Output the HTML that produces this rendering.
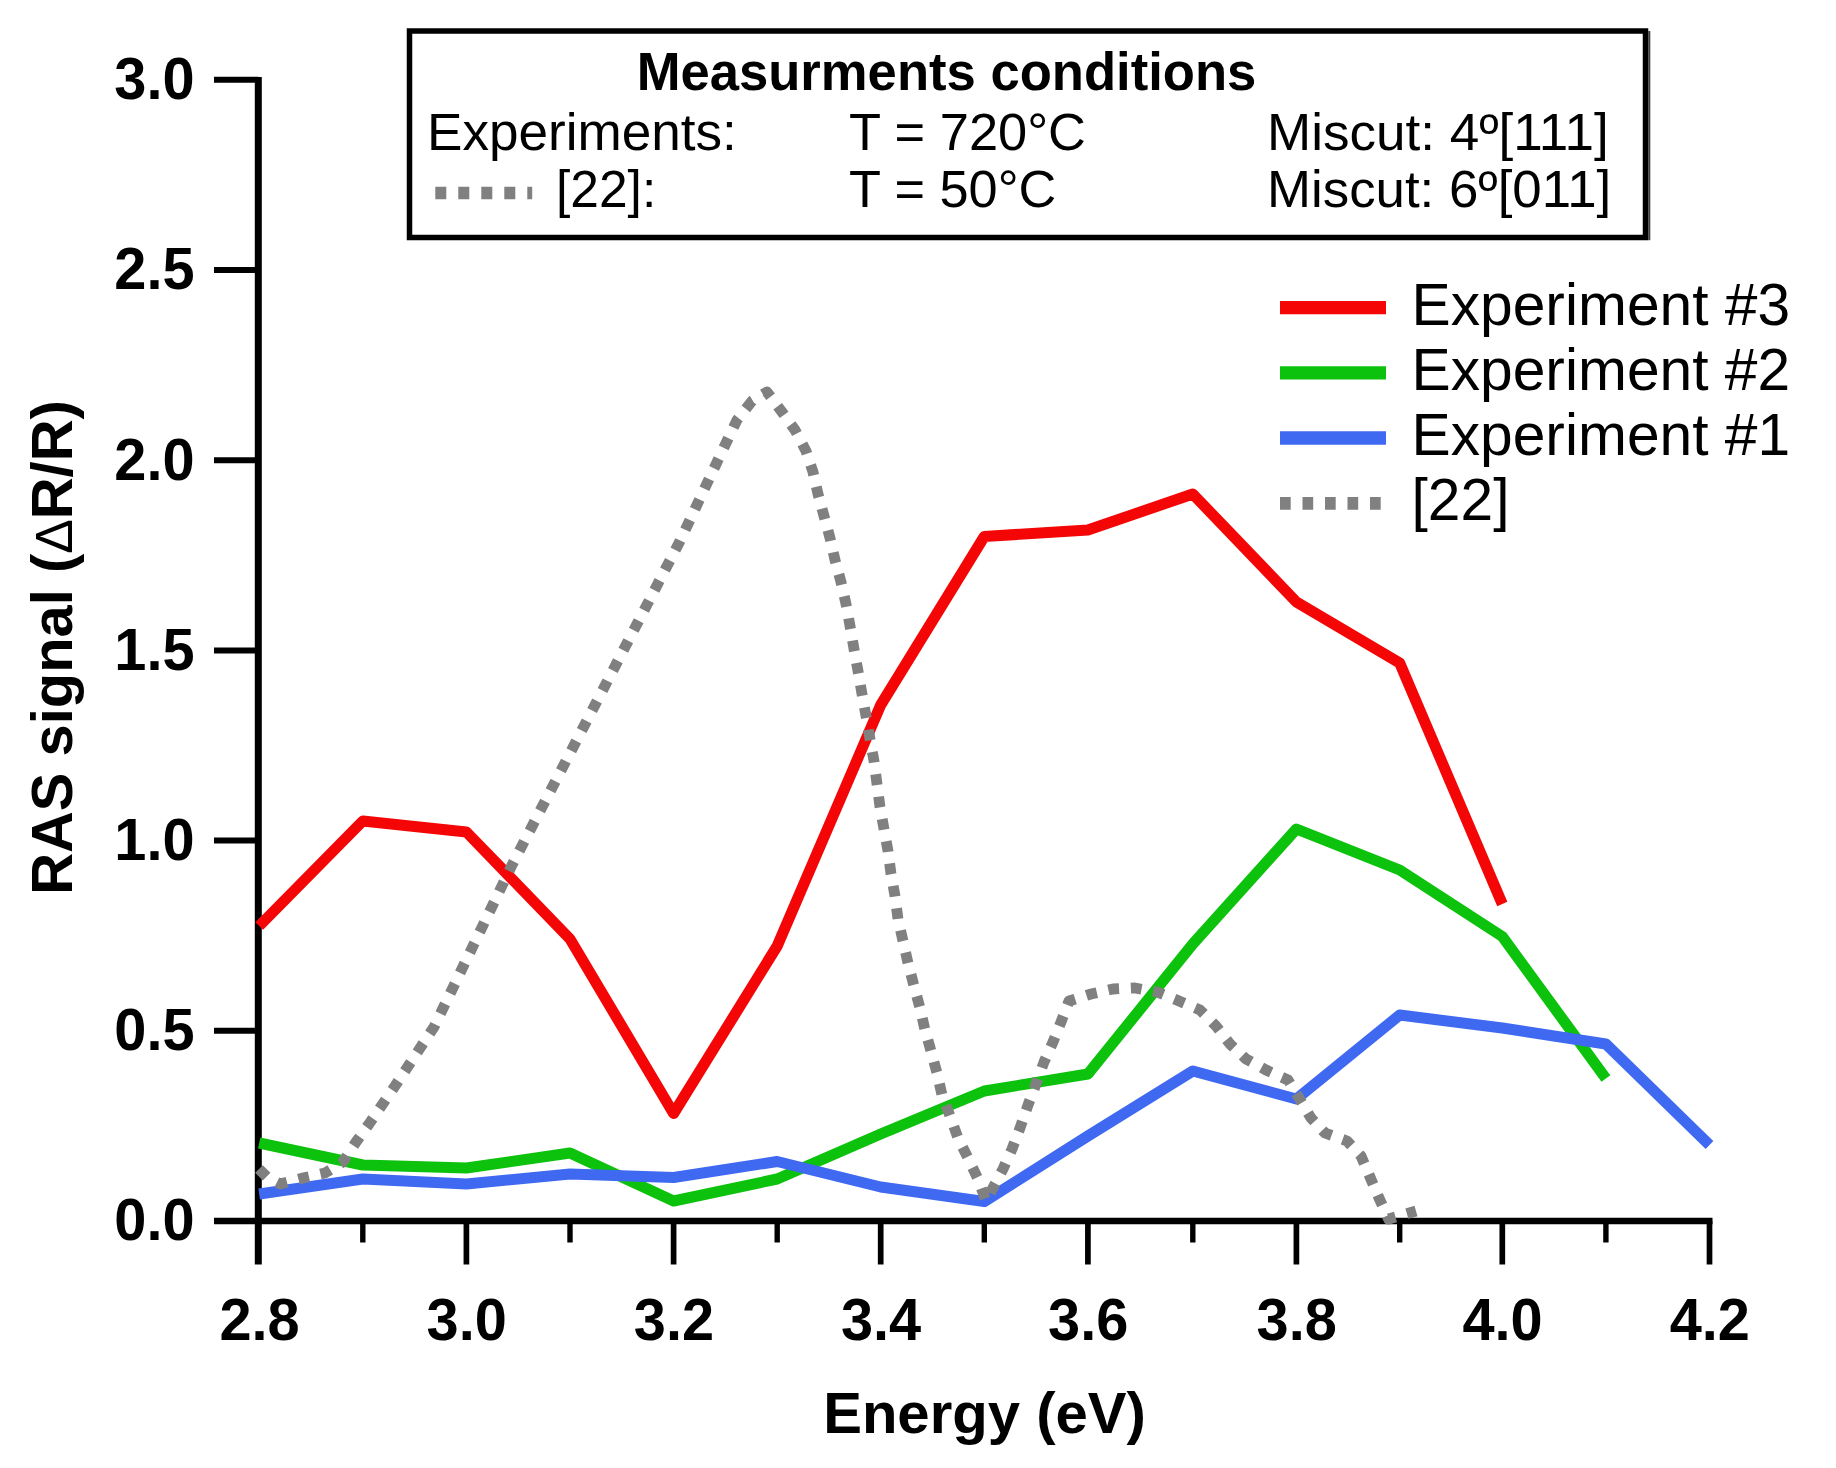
<!DOCTYPE html>
<html lang="en"><head><meta charset="utf-8"><title>RAS signal vs Energy</title>
<style>
html,body{margin:0;padding:0;background:#fff;}
body{width:1836px;height:1468px;overflow:hidden;}
svg{display:block;}
text{font-family:"Liberation Sans",Arial,Helvetica,sans-serif;fill:#000;}
.b{font-weight:700;}
.tick{font-weight:700;font-size:59px;}
.lbl{font-weight:700;font-size:57px;}
.leg{font-size:58.5px;}
.box{font-size:51.5px;}
.ttl{font-weight:700;font-size:53px;}
</style></head><body>
<svg width="1836" height="1468" viewBox="0 0 1836 1468">
<rect width="1836" height="1468" fill="#fff"/>

<g stroke="#000" fill="none" stroke-linecap="butt">
<line x1="258.3" y1="77" x2="258.3" y2="1264.5" stroke-width="7"/>
<line x1="214" y1="1221.0" x2="1712.5" y2="1221.0" stroke-width="6.5"/>
<line x1="214" y1="1030.8" x2="258.3" y2="1030.8" stroke-width="6"/>
<line x1="214" y1="840.6" x2="258.3" y2="840.6" stroke-width="6"/>
<line x1="214" y1="650.4" x2="258.3" y2="650.4" stroke-width="6"/>
<line x1="214" y1="460.2" x2="258.3" y2="460.2" stroke-width="6"/>
<line x1="214" y1="270.0" x2="258.3" y2="270.0" stroke-width="6"/>
<line x1="214" y1="79.8" x2="258.3" y2="79.8" stroke-width="6"/>
<line x1="362.8" y1="1221.0" x2="362.8" y2="1242.5" stroke-width="5.4"/>
<line x1="466.4" y1="1221.0" x2="466.4" y2="1264.5" stroke-width="5.7"/>
<line x1="570.0" y1="1221.0" x2="570.0" y2="1242.5" stroke-width="5.4"/>
<line x1="673.6" y1="1221.0" x2="673.6" y2="1264.5" stroke-width="5.7"/>
<line x1="777.2" y1="1221.0" x2="777.2" y2="1242.5" stroke-width="5.4"/>
<line x1="880.7" y1="1221.0" x2="880.7" y2="1264.5" stroke-width="5.7"/>
<line x1="984.3" y1="1221.0" x2="984.3" y2="1242.5" stroke-width="5.4"/>
<line x1="1087.9" y1="1221.0" x2="1087.9" y2="1264.5" stroke-width="5.7"/>
<line x1="1192.8" y1="1221.0" x2="1192.8" y2="1242.5" stroke-width="5.4"/>
<line x1="1296.4" y1="1221.0" x2="1296.4" y2="1264.5" stroke-width="5.7"/>
<line x1="1399.7" y1="1221.0" x2="1399.7" y2="1242.5" stroke-width="5.4"/>
<line x1="1502.3" y1="1221.0" x2="1502.3" y2="1264.5" stroke-width="5.7"/>
<line x1="1605.9" y1="1221.0" x2="1605.9" y2="1242.5" stroke-width="5.4"/>
<line x1="1709.5" y1="1221.0" x2="1709.5" y2="1264.5" stroke-width="5.7"/>
</g>
<g fill="none" stroke-linejoin="round" stroke-linecap="butt">
<polyline points="259.2,926.0 362.8,821.0 466.4,832.0 570.0,939.0 673.6,1113.5 777.2,946.0 880.7,705.0 984.3,536.5 1087.9,530.0 1192.8,494.0 1296.4,602.0 1399.7,663.0 1502.3,904.0" stroke="#f40606" stroke-width="11"/>
<polyline points="259.2,1143.0 362.8,1165.0 466.4,1168.0 570.0,1153.0 673.6,1201.0 777.2,1179.0 880.7,1134.0 984.3,1091.0 1087.9,1074.0 1192.8,944.0 1296.4,829.0 1399.7,870.0 1502.3,936.5 1605.9,1078.5" stroke="#0cc20c" stroke-width="11"/>
<polyline points="259.2,1194.0 362.8,1179.0 466.4,1184.0 570.0,1174.0 673.6,1177.5 777.2,1161.5 880.7,1187.0 984.3,1201.5 1087.9,1136.0 1192.8,1071.0 1296.4,1099.0 1399.7,1015.0 1502.3,1028.0 1605.9,1044.0 1709.5,1145.0" stroke="#4069f2" stroke-width="11"/>
<polyline points="259,1169 268,1178 280,1184 303,1178 325,1173 343,1162 356,1142 369,1124 395,1086 434,1027 473,946 512,865 554,784 596,703 638,622 680,541 718,460 737,420 752,401 767,392 782,412 795,430 806,451 813,472 818,494 824,516 830,538 835,560 841,582 846,604 850,626 854,649 858,671 862,694 866,716 870,739 874,761 877,784 880,807 884,829 888,851 891,874 895,896 898,919 903,941 908,963 914,986 920,1008 925,1030 931,1051 937,1073 942,1095 950,1116 958,1138 968,1158 978,1179 986,1201 1003,1169 1012,1149 1020,1128 1028,1105 1036,1084 1044,1062 1053,1042 1061,1022 1069,1001 1091,994 1113,989 1135,988 1157,992 1179,1001 1200,1010 1216,1026 1230,1044 1246,1059 1266,1070 1288,1080 1299,1098 1311,1118 1325,1133 1347,1141 1361,1156 1370,1177 1379,1198 1388.5,1219 1416,1211" stroke="#808080" stroke-width="10.8" stroke-dasharray="10.8 11.8" stroke-linejoin="round"/>
</g>
<text class="tick" transform="translate(194.5,1240.4) scale(0.978,1)" text-anchor="end">0.0</text>
<text class="tick" transform="translate(194.5,1050.2) scale(0.978,1)" text-anchor="end">0.5</text>
<text class="tick" transform="translate(194.5,860.0) scale(0.978,1)" text-anchor="end">1.0</text>
<text class="tick" transform="translate(194.5,669.8) scale(0.978,1)" text-anchor="end">1.5</text>
<text class="tick" transform="translate(194.5,479.6) scale(0.978,1)" text-anchor="end">2.0</text>
<text class="tick" transform="translate(194.5,289.4) scale(0.978,1)" text-anchor="end">2.5</text>
<text class="tick" transform="translate(194.5,99.2) scale(0.978,1)" text-anchor="end">3.0</text>
<text class="tick" transform="translate(259.5,1340) scale(0.978,1)" text-anchor="middle">2.8</text>
<text class="tick" transform="translate(466.7,1340) scale(0.978,1)" text-anchor="middle">3.0</text>
<text class="tick" transform="translate(673.9,1340) scale(0.978,1)" text-anchor="middle">3.2</text>
<text class="tick" transform="translate(881.0,1340) scale(0.978,1)" text-anchor="middle">3.4</text>
<text class="tick" transform="translate(1088.2,1340) scale(0.978,1)" text-anchor="middle">3.6</text>
<text class="tick" transform="translate(1296.7,1340) scale(0.978,1)" text-anchor="middle">3.8</text>
<text class="tick" transform="translate(1502.6,1340) scale(0.978,1)" text-anchor="middle">4.0</text>
<text class="tick" transform="translate(1709.8,1340) scale(0.978,1)" text-anchor="middle">4.2</text>
<text class="lbl" transform="translate(984.5,1433) scale(1.019,1)" text-anchor="middle">Energy (eV)</text>
<text class="lbl" transform="translate(71.5,647.5) rotate(-90) scale(1.016,1)" text-anchor="middle">RAS signal (<tspan font-weight="400" font-size="51">Δ</tspan>R/R)</text>
<line x1="1280" y1="307.7" x2="1386" y2="307.7" stroke="#f40606" stroke-width="13.3"/>
<line x1="1280" y1="372.8" x2="1386" y2="372.8" stroke="#0cc20c" stroke-width="13.3"/>
<line x1="1280" y1="438" x2="1386" y2="438" stroke="#4069f2" stroke-width="13.3"/>
<line x1="1280" y1="503.4" x2="1386" y2="503.4" stroke="#808080" stroke-width="12.8" stroke-dasharray="10.7 11.8"/>
<text class="leg" transform="translate(1411.5,325) scale(1.004,1)">Experiment #3</text>
<text class="leg" transform="translate(1411.5,389.8) scale(1.004,1)">Experiment #2</text>
<text class="leg" transform="translate(1411.5,454.8) scale(1.004,1)">Experiment #1</text>
<text class="leg" transform="translate(1411.5,520.3) scale(1.004,1)">[22]</text>
<rect x="409.5" y="31" width="1236" height="206.5" fill="#fff" stroke="#000" stroke-width="5.5"/>
<line x1="1649.3" y1="31" x2="1649.3" y2="240.2" stroke="#000" stroke-width="2" opacity="0.75"/>
<text class="ttl" transform="translate(946.5,90.3) scale(0.993,1)" text-anchor="middle">Measurments conditions</text>
<text class="box" transform="translate(427,149.7) scale(1.031,1)">Experiments:</text>
<text class="box" transform="translate(849,149.7) scale(1.0175,1)">T = 720°C</text>
<text class="box" transform="translate(1267,149.7) scale(1.03,1)">Miscut: 4º[111]</text>
<line x1="435.3" y1="193" x2="532.2" y2="193" stroke="#808080" stroke-width="12.5" stroke-dasharray="11 12"/>
<text class="box" x="556" y="207">[22]:</text>
<text class="box" transform="translate(849,207) scale(1.015,1)">T = 50°C</text>
<text class="box" transform="translate(1267,207) scale(1.026,1)">Miscut: 6º[011]</text>
</svg></body></html>
